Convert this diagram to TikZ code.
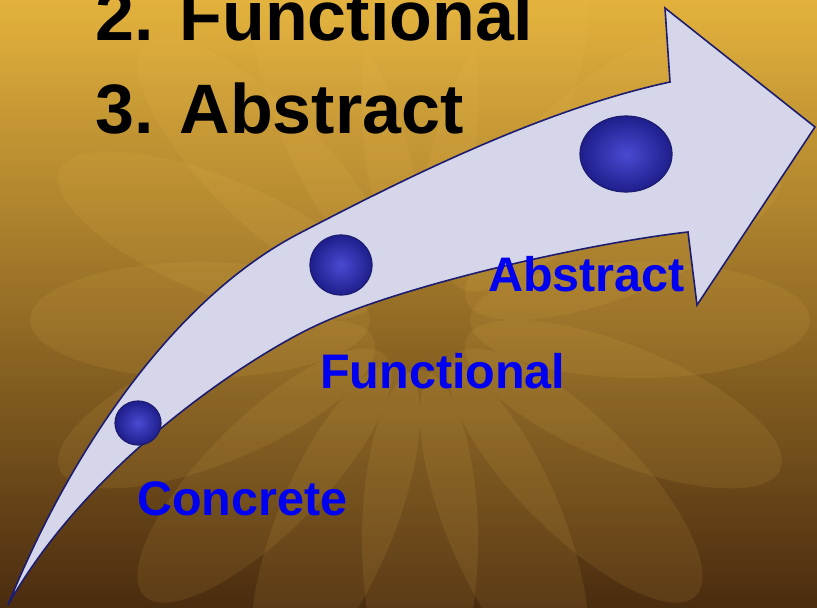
\documentclass[tikz,border=0pt]{standalone}
\usepackage{fontspec}
\setmainfont{Liberation Sans}
\usetikzlibrary{shapes.geometric}
\definecolor{bgtop}{HTML}{EEC848}
\definecolor{bgmid}{HTML}{C27A22}
\definecolor{bgbot}{HTML}{482A10}
\definecolor{vtop}{HTML}{D08A2A}
\definecolor{vbot}{HTML}{50300F}
\definecolor{petalcol}{HTML}{F4C458}
\definecolor{arrowfill}{HTML}{D6D6EA}
\definecolor{arrowline}{HTML}{1C1C70}
\definecolor{ballin}{HTML}{4A4AD2}
\definecolor{ballout}{HTML}{1E1E8C}
\definecolor{labelblue}{HTML}{0000F0}
\begin{document}
\begin{tikzpicture}[x=1pt,y=-1pt,
  petal/.style={fill=petalcol, fill opacity=0.10},
  ball/.style={ellipse, draw=arrowline, line width=1.2pt, inner color=ballin, outer color=ballout, inner sep=0pt},
  steplabel/.style={font=\bfseries\fontsize{48.5}{56}\selectfont, text=labelblue, anchor=base west, inner sep=0pt},
  listtext/.style={font=\bfseries\fontsize{70}{80}\selectfont, text=black, anchor=base west, inner sep=0pt}]
\useasboundingbox (0,0) rectangle (817,608);
\shade[shading angle=-38, top color=bgtop, middle color=bgmid, bottom color=bgbot] (0,0) rectangle (817,608);
\shade[top color=vtop, bottom color=vbot, opacity=0.35] (0,0) rectangle (817,608);
\begin{scope}
\clip (0,0) rectangle (817,608);
\foreach \a in {0,22.5,...,337.5}
  \fill[petal, rotate around={\a:(420,320)}] (640,320) ellipse (170 and 58);
\end{scope}
\draw[fill=arrowfill, draw=arrowline, line width=1.6pt, line join=miter]
 (8,605) .. controls (75,440) and (180,295) .. (300,233)
 .. controls (400,181) and (540,110) .. (670,82)
 -- (665,8) -- (815,127) -- (697,305) -- (688,232)
 .. controls (590,243) and (400,285) .. (313,327)
 .. controls (250,357) and (90,460) .. (8,605) -- cycle;
\node[ball, minimum width=46pt, minimum height=44pt] (b1) at (138,423) {};
\node[ball, minimum width=62pt, minimum height=60pt] (b2) at (341,265) {};
\node[ball, minimum width=92pt, minimum height=76pt] (b3) at (626,154) {};
\node[listtext] (l2) at (95,40) {2. Functional};
\node[listtext] (l3) at (95,133) {3. Abstract};
\node[steplabel] (c) at (137,515) {Concrete};
\node[steplabel] (f) at (320,388) {Functional};
\node[steplabel] (a) at (488,291) {Abstract};
\end{tikzpicture}
\end{document}
